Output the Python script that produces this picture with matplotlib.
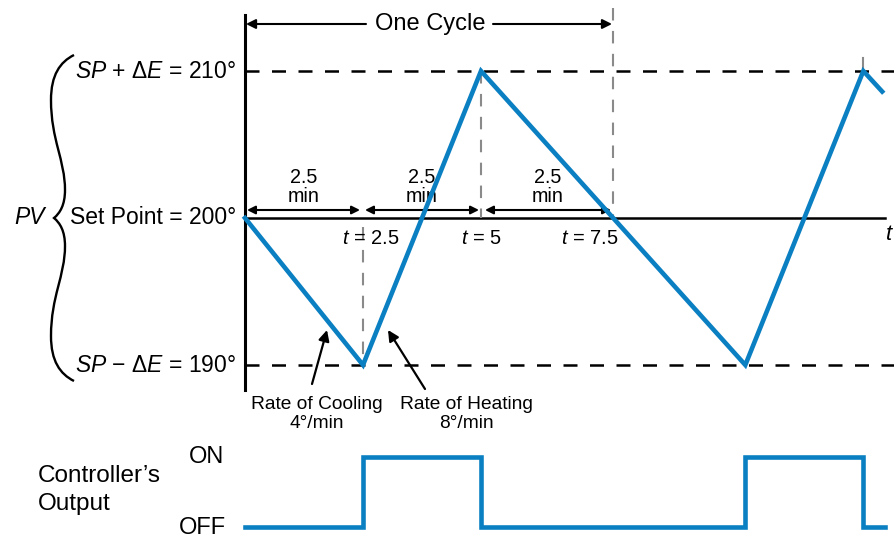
import matplotlib
matplotlib.use('Agg')
import matplotlib.pyplot as plt
from matplotlib.path import Path
from matplotlib.patches import PathPatch
from matplotlib.transforms import Affine2D

plt.rcParams['font.family'] = ['Liberation Sans', 'DejaVu Sans']
plt.rcParams['mathtext.fontset'] = 'custom'
plt.rcParams['mathtext.rm'] = 'Liberation Sans'
plt.rcParams['mathtext.it'] = 'Liberation Sans:italic'

# PV trace (minutes, degrees)
pv_t = [0, 2.5, 5, 10.6, 13.1, 13.5]
pv_deg = [200, 190, 210, 190, 210, 208.6]
set_point = 200
delta_e = 10
# controller output: switch times and the state from each one on
out_t = [0, 2.5, 5, 10.6, 13.1, 13.56]
out_state = [0, 1, 0, 1, 0, 0]
# marked times (t = 7.5 is where the drawn trace crosses the set point)
t_marks = [2.5, 5, 7.8]
t_labels = ['$t$ = 2.5', '$t$ = 5', '$t$ = 7.5']
level_labels = ['$SP$ + Δ$E$ = 210°', 'Set Point = 200°', '$SP$ − Δ$E$ = 190°']
rate_labels = ['Rate of Cooling\n4°/min', 'Rate of Heating\n8°/min']

BLUE = '#0a7fc2'
GRAY = '#8a8a8a'
W, H = 895, 540
PX_MIN = 47.2   # pixels per minute in the drawing
PX_DEG = 14.7   # pixels per degree

fig = plt.figure(figsize=(W / 100, H / 100), dpi=100)
# pixel coords, origin top-left, for the annotations
px = Affine2D().scale(0.01, -0.01).translate(0, H / 100) + fig.dpi_scale_trans

ax = fig.add_axes([0, 0, 1, 1])
ax.set_xlim(-245 / PX_MIN, (W - 245) / PX_MIN)
ax.set_ylim(set_point - (H - 218) / PX_DEG, set_point + 218 / PX_DEG)
ax.axis('off')

ax2 = fig.add_axes([0, 0, 1, 1])
ax2.set_xlim(ax.get_xlim())
ax2.set_ylim(-(H - 527) / 70, 1 + 457 / 70)
ax2.axis('off')
ax2.patch.set_visible(False)

t_end = 13.56
hi = set_point + delta_e
lo = set_point - delta_e

# axes of the PV diagram
ax.plot([0, 0], [set_point + 203 / PX_DEG, set_point - 172 / PX_DEG], color='k', lw=2.2)
ax.plot([0, t_end], [set_point, set_point], color='k', lw=1.8)
for lvl in (hi, lo):
    ax.plot([0, ax.get_xlim()[1]], [lvl, lvl], color='k', lw=1.8,
            linestyle=(0, (5.6, 5.0)))

# gray dashed markers
ax.plot([t_marks[0]] * 2, [set_point - 0.6, lo], color=GRAY, lw=1.5, linestyle=(0, (6, 5)), zorder=2)
ax.plot([t_marks[1]] * 2, [hi, set_point], color=GRAY, lw=1.5, linestyle=(0, (6, 5)), zorder=2)
ax.plot([t_marks[2]] * 2, [set_point + 210 / PX_DEG, set_point], color=GRAY, lw=1.5,
        linestyle=(0, (6, 5)), zorder=2)
ax.plot([pv_t[4]] * 2, [hi + 0.9, hi], color=GRAY, lw=1.5, zorder=2)

ax.plot(pv_t, pv_deg, color=BLUE, lw=3.3, solid_joinstyle='miter', zorder=5)
ax2.step(out_t, out_state, where='post', color=BLUE, lw=3.3, solid_joinstyle='miter')

# level labels
for lbl, y in zip(level_labels, (72, 218, 366)):
    ax.text(236, y, lbl, transform=px, ha='right', va='center', fontsize=16.5)
ax.text(30, 218, 'PV', transform=px, ha='center', va='center', fontsize=16.5, style='italic')

# curly brace
top = [(74, 55), (60, 62), (51, 75), (51, 100),
       (51, 140), (65, 160), (65, 190),
       (65, 205), (60, 213), (54, 218)]
bot = [(x, 436 - y) for x, y in top[::-1]][1:]
verts = top + bot
codes = [Path.MOVETO] + [Path.CURVE4] * (len(verts) - 1)
ax.add_patch(PathPatch(Path(verts, codes), transform=px, fill=False, lw=1.7, color='k'))

# one cycle
ax.text(430, 24, 'One Cycle', transform=px, ha='center', va='center', fontsize=17)
arw = dict(arrowstyle='-|>', color='k', lw=1.5, mutation_scale=14, shrinkA=0, shrinkB=0)
ax.annotate('', xy=(246, 24), xytext=(366, 24), xycoords=px, textcoords=px, arrowprops=arw)
ax.annotate('', xy=(612, 24), xytext=(493, 24), xycoords=px, textcoords=px, arrowprops=arw)

# 2.5 min spans
darw = dict(arrowstyle='<|-|>', color='k', lw=1.5, mutation_scale=12, shrinkA=0, shrinkB=0)
for x0, x1 in ((247, 360), (365, 479), (485, 611)):
    ax.annotate('', xy=(x0, 210), xytext=(x1, 210), xycoords=px, textcoords=px, arrowprops=darw)
    ax.text((x0 + x1) / 2, 187, '2.5\nmin', transform=px, ha='center', va='center',
            fontsize=14.2, linespacing=0.95)

for lbl, x in zip(t_labels, (371, 481, 590)):
    ax.text(x, 238, lbl, transform=px, ha='center', va='center', fontsize=14.5)
ax.text(889, 235, '$t$', transform=px, ha='center', va='center', fontsize=16)

# rates
ax.text(317, 414, rate_labels[0], transform=px, ha='center', va='center', fontsize=13.8,
        linespacing=1.15)
ax.text(466, 414, rate_labels[1], transform=px, ha='center', va='center', fontsize=13.8,
        linespacing=1.15)
rarw = dict(arrowstyle='-|>', color='k', lw=1.6, mutation_scale=16, shrinkA=0, shrinkB=0)
ax.annotate('', xy=(327, 330), xytext=(312, 384), xycoords=px, textcoords=px, arrowprops=rarw)
ax.annotate('', xy=(388, 330), xytext=(425, 389), xycoords=px, textcoords=px, arrowprops=rarw)

# output labels
ax.text(207, 457, 'ON', transform=px, ha='center', va='center', fontsize=17)
ax.text(202, 528, 'OFF', transform=px, ha='center', va='center', fontsize=17)
ax.text(38, 490, 'Controller’s\nOutput', transform=px, ha='left', va='center', fontsize=17.5,
        linespacing=1.35)

fig.savefig('out.png', dpi=100)
